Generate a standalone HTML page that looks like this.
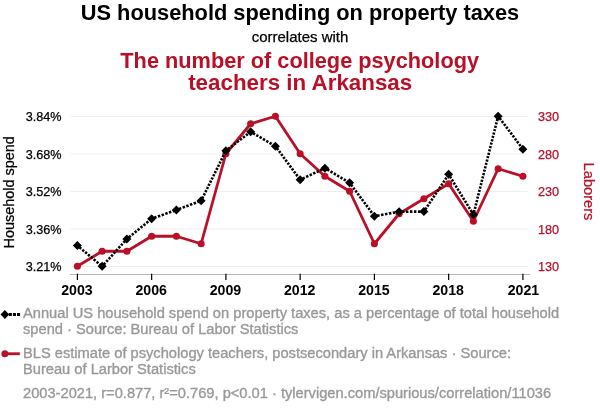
<!DOCTYPE html><html><head><meta charset="utf-8"><style>html,body{margin:0;padding:0;background:#fff}svg{display:block}</style></head><body><svg width="600" height="414" viewBox="0 0 600 414" font-family="&quot;Liberation Sans&quot;, sans-serif">
<rect width="600" height="414" fill="#fff"/>
<line x1="70.5" x2="528.5" y1="116.5" y2="116.5" stroke="#eeeeee" stroke-width="1"/>
<line x1="70.5" x2="528.5" y1="154" y2="154" stroke="#eeeeee" stroke-width="1"/>
<line x1="70.5" x2="528.5" y1="191.5" y2="191.5" stroke="#eeeeee" stroke-width="1"/>
<line x1="70.5" x2="528.5" y1="229" y2="229" stroke="#eeeeee" stroke-width="1"/>
<line x1="70.5" x2="528.5" y1="266.5" y2="266.5" stroke="#eeeeee" stroke-width="1"/>
<line x1="70" x2="530" y1="274.5" y2="274.5" stroke="#b8b8b8" stroke-width="1"/>
<line x1="77.40" x2="77.40" y1="273.7" y2="280" stroke="#000" stroke-width="1.2"/>
<text x="77.00" y="294.6" font-size="14.5" font-weight="bold" text-anchor="middle" textLength="31.5" lengthAdjust="spacingAndGlyphs" fill="#000">2003</text>
<line x1="151.65" x2="151.65" y1="273.7" y2="280" stroke="#000" stroke-width="1.2"/>
<text x="151.25" y="294.6" font-size="14.5" font-weight="bold" text-anchor="middle" textLength="31.5" lengthAdjust="spacingAndGlyphs" fill="#000">2006</text>
<line x1="225.90" x2="225.90" y1="273.7" y2="280" stroke="#000" stroke-width="1.2"/>
<text x="225.50" y="294.6" font-size="14.5" font-weight="bold" text-anchor="middle" textLength="31.5" lengthAdjust="spacingAndGlyphs" fill="#000">2009</text>
<line x1="300.15" x2="300.15" y1="273.7" y2="280" stroke="#000" stroke-width="1.2"/>
<text x="299.75" y="294.6" font-size="14.5" font-weight="bold" text-anchor="middle" textLength="31.5" lengthAdjust="spacingAndGlyphs" fill="#000">2012</text>
<line x1="374.40" x2="374.40" y1="273.7" y2="280" stroke="#000" stroke-width="1.2"/>
<text x="374.00" y="294.6" font-size="14.5" font-weight="bold" text-anchor="middle" textLength="31.5" lengthAdjust="spacingAndGlyphs" fill="#000">2015</text>
<line x1="448.65" x2="448.65" y1="273.7" y2="280" stroke="#000" stroke-width="1.2"/>
<text x="448.25" y="294.6" font-size="14.5" font-weight="bold" text-anchor="middle" textLength="31.5" lengthAdjust="spacingAndGlyphs" fill="#000">2018</text>
<line x1="522.90" x2="522.90" y1="273.7" y2="280" stroke="#000" stroke-width="1.2"/>
<text x="523.50" y="294.6" font-size="14.5" font-weight="bold" text-anchor="middle" textLength="31.5" lengthAdjust="spacingAndGlyphs" fill="#000">2021</text>
<text x="61.6" y="120.8" font-size="12.67" text-anchor="end" fill="#000" stroke="#000" stroke-width="0.25">3.84%</text>
<text x="538" y="120.8" font-size="12.67" text-anchor="start" fill="#b90f27" stroke="#b90f27" stroke-width="0.25">330</text>
<text x="61.6" y="159.1" font-size="12.67" text-anchor="end" fill="#000" stroke="#000" stroke-width="0.25">3.68%</text>
<text x="538" y="159.1" font-size="12.67" text-anchor="start" fill="#b90f27" stroke="#b90f27" stroke-width="0.25">280</text>
<text x="61.6" y="196.3" font-size="12.67" text-anchor="end" fill="#000" stroke="#000" stroke-width="0.25">3.52%</text>
<text x="538" y="196.3" font-size="12.67" text-anchor="start" fill="#b90f27" stroke="#b90f27" stroke-width="0.25">230</text>
<text x="61.6" y="234.3" font-size="12.67" text-anchor="end" fill="#000" stroke="#000" stroke-width="0.25">3.36%</text>
<text x="538" y="234.3" font-size="12.67" text-anchor="start" fill="#b90f27" stroke="#b90f27" stroke-width="0.25">180</text>
<text x="61.6" y="270.8" font-size="12.67" text-anchor="end" fill="#000" stroke="#000" stroke-width="0.25">3.21%</text>
<text x="538" y="270.8" font-size="12.67" text-anchor="start" fill="#b90f27" stroke="#b90f27" stroke-width="0.25">130</text>
<text x="300" y="19.8" font-size="21.8" font-weight="bold" text-anchor="middle" fill="#000">US household spending on property taxes</text>
<text x="300" y="42" font-size="14.67" text-anchor="middle" textLength="96.7" lengthAdjust="spacingAndGlyphs" fill="#000" stroke="#000" stroke-width="0.25">correlates with</text>
<text x="299.7" y="67.8" font-size="21.6" font-weight="bold" text-anchor="middle" textLength="358.7" lengthAdjust="spacingAndGlyphs" fill="#b90f27">The number of college psychology</text>
<text x="300.2" y="89.9" font-size="21.6" font-weight="bold" text-anchor="middle" textLength="224.1" lengthAdjust="spacingAndGlyphs" fill="#b90f27">teachers in Arkansas</text>
<text transform="translate(14.4,192.3) rotate(-90)" font-size="14.67" text-anchor="middle" textLength="112.3" lengthAdjust="spacingAndGlyphs" fill="#000" stroke="#000" stroke-width="0.25">Household spend</text>
<text transform="translate(583.8,191.5) rotate(90)" font-size="14.67" text-anchor="middle" fill="#b90f27" stroke="#b90f27" stroke-width="0.25">Laborers</text>
<polyline points="77.40,266.25 102.15,251.25 126.90,251.25 151.65,236.25 176.40,236.25 201.15,243.75 225.90,153.75 250.65,123.75 275.40,116.25 300.15,153.75 324.90,176.25 349.65,191.25 374.40,243.75 399.15,213.75 423.90,198.75 448.65,183.75 473.40,221.25 498.15,168.75 522.90,176.25" fill="none" stroke="#b90f27" stroke-width="2.8" stroke-linejoin="round"/>
<circle cx="77.40" cy="266.25" r="3.55" fill="#b90f27"/>
<circle cx="102.15" cy="251.25" r="3.55" fill="#b90f27"/>
<circle cx="126.90" cy="251.25" r="3.55" fill="#b90f27"/>
<circle cx="151.65" cy="236.25" r="3.55" fill="#b90f27"/>
<circle cx="176.40" cy="236.25" r="3.55" fill="#b90f27"/>
<circle cx="201.15" cy="243.75" r="3.55" fill="#b90f27"/>
<circle cx="225.90" cy="153.75" r="3.55" fill="#b90f27"/>
<circle cx="250.65" cy="123.75" r="3.55" fill="#b90f27"/>
<circle cx="275.40" cy="116.25" r="3.55" fill="#b90f27"/>
<circle cx="300.15" cy="153.75" r="3.55" fill="#b90f27"/>
<circle cx="324.90" cy="176.25" r="3.55" fill="#b90f27"/>
<circle cx="349.65" cy="191.25" r="3.55" fill="#b90f27"/>
<circle cx="374.40" cy="243.75" r="3.55" fill="#b90f27"/>
<circle cx="399.15" cy="213.75" r="3.55" fill="#b90f27"/>
<circle cx="423.90" cy="198.75" r="3.55" fill="#b90f27"/>
<circle cx="448.65" cy="183.75" r="3.55" fill="#b90f27"/>
<circle cx="473.40" cy="221.25" r="3.55" fill="#b90f27"/>
<circle cx="498.15" cy="168.75" r="3.55" fill="#b90f27"/>
<circle cx="522.90" cy="176.25" r="3.55" fill="#b90f27"/>
<line x1="77.40" y1="245.55" x2="102.15" y2="266.35" stroke="#000" stroke-width="2.6" stroke-dasharray="2.32,1.42" stroke-dashoffset="1.12"/>
<line x1="102.15" y1="266.35" x2="126.90" y2="238.95" stroke="#000" stroke-width="2.6" stroke-dasharray="2.27,1.39" stroke-dashoffset="1.10"/>
<line x1="126.90" y1="238.95" x2="151.65" y2="218.75" stroke="#000" stroke-width="2.6" stroke-dasharray="2.33,1.43" stroke-dashoffset="1.13"/>
<line x1="151.65" y1="218.75" x2="176.40" y2="209.95" stroke="#000" stroke-width="2.6" stroke-dasharray="2.43,1.49" stroke-dashoffset="1.18"/>
<line x1="176.40" y1="209.95" x2="201.15" y2="200.75" stroke="#000" stroke-width="2.6" stroke-dasharray="2.43,1.49" stroke-dashoffset="1.18"/>
<line x1="201.15" y1="200.75" x2="225.90" y2="150.75" stroke="#000" stroke-width="2.6" stroke-dasharray="2.20,1.35" stroke-dashoffset="1.06"/>
<line x1="225.90" y1="150.75" x2="250.65" y2="131.75" stroke="#000" stroke-width="2.6" stroke-dasharray="2.34,1.43" stroke-dashoffset="1.13"/>
<line x1="250.65" y1="131.75" x2="275.40" y2="146.15" stroke="#000" stroke-width="2.6" stroke-dasharray="2.38,1.46" stroke-dashoffset="1.15"/>
<line x1="275.40" y1="146.15" x2="300.15" y2="179.75" stroke="#000" stroke-width="2.6" stroke-dasharray="2.24,1.37" stroke-dashoffset="1.09"/>
<line x1="300.15" y1="179.75" x2="324.90" y2="168.15" stroke="#000" stroke-width="2.6" stroke-dasharray="2.41,1.47" stroke-dashoffset="1.16"/>
<line x1="324.90" y1="168.15" x2="349.65" y2="182.75" stroke="#000" stroke-width="2.6" stroke-dasharray="2.38,1.46" stroke-dashoffset="1.15"/>
<line x1="349.65" y1="182.75" x2="374.40" y2="216.15" stroke="#000" stroke-width="2.6" stroke-dasharray="2.24,1.37" stroke-dashoffset="1.09"/>
<line x1="374.40" y1="216.15" x2="399.15" y2="211.75" stroke="#000" stroke-width="2.6" stroke-dasharray="2.47,1.51" stroke-dashoffset="1.19"/>
<line x1="399.15" y1="211.75" x2="423.90" y2="211.55" stroke="#000" stroke-width="2.6" stroke-dasharray="2.48,1.52" stroke-dashoffset="1.20"/>
<line x1="423.90" y1="211.55" x2="448.65" y2="174.35" stroke="#000" stroke-width="2.6" stroke-dasharray="2.23,1.37" stroke-dashoffset="1.08"/>
<line x1="448.65" y1="174.35" x2="473.40" y2="214.55" stroke="#000" stroke-width="2.6" stroke-dasharray="2.22,1.36" stroke-dashoffset="1.07"/>
<line x1="473.40" y1="214.55" x2="498.15" y2="116.15" stroke="#000" stroke-width="2.6" stroke-dasharray="2.16,1.32" stroke-dashoffset="1.04"/>
<line x1="498.15" y1="116.15" x2="522.90" y2="149.15" stroke="#000" stroke-width="2.6" stroke-dasharray="2.24,1.38" stroke-dashoffset="1.09"/>
<path d="M77.40,241.05 l4.5,4.5 l-4.5,4.5 l-4.5,-4.5 z" fill="#000"/>
<path d="M102.15,261.85 l4.5,4.5 l-4.5,4.5 l-4.5,-4.5 z" fill="#000"/>
<path d="M126.90,234.45 l4.5,4.5 l-4.5,4.5 l-4.5,-4.5 z" fill="#000"/>
<path d="M151.65,214.25 l4.5,4.5 l-4.5,4.5 l-4.5,-4.5 z" fill="#000"/>
<path d="M176.40,205.45 l4.5,4.5 l-4.5,4.5 l-4.5,-4.5 z" fill="#000"/>
<path d="M201.15,196.25 l4.5,4.5 l-4.5,4.5 l-4.5,-4.5 z" fill="#000"/>
<path d="M225.90,146.25 l4.5,4.5 l-4.5,4.5 l-4.5,-4.5 z" fill="#000"/>
<path d="M250.65,127.25 l4.5,4.5 l-4.5,4.5 l-4.5,-4.5 z" fill="#000"/>
<path d="M275.40,141.65 l4.5,4.5 l-4.5,4.5 l-4.5,-4.5 z" fill="#000"/>
<path d="M300.15,175.25 l4.5,4.5 l-4.5,4.5 l-4.5,-4.5 z" fill="#000"/>
<path d="M324.90,163.65 l4.5,4.5 l-4.5,4.5 l-4.5,-4.5 z" fill="#000"/>
<path d="M349.65,178.25 l4.5,4.5 l-4.5,4.5 l-4.5,-4.5 z" fill="#000"/>
<path d="M374.40,211.65 l4.5,4.5 l-4.5,4.5 l-4.5,-4.5 z" fill="#000"/>
<path d="M399.15,207.25 l4.5,4.5 l-4.5,4.5 l-4.5,-4.5 z" fill="#000"/>
<path d="M423.90,207.05 l4.5,4.5 l-4.5,4.5 l-4.5,-4.5 z" fill="#000"/>
<path d="M448.65,169.85 l4.5,4.5 l-4.5,4.5 l-4.5,-4.5 z" fill="#000"/>
<path d="M473.40,210.05 l4.5,4.5 l-4.5,4.5 l-4.5,-4.5 z" fill="#000"/>
<path d="M498.15,111.65 l4.5,4.5 l-4.5,4.5 l-4.5,-4.5 z" fill="#000"/>
<path d="M522.90,144.65 l4.5,4.5 l-4.5,4.5 l-4.5,-4.5 z" fill="#000"/>
<line x1="4.7" x2="20.05" y1="314.4" y2="314.4" stroke="#000" stroke-width="3" stroke-dasharray="3.05,1.05"/>
<path d="M4.85,310.0 l4.3,4.5 l-4.3,4.5 l-4.3,-4.5 z" fill="#000"/>
<text x="23" y="318.1" font-size="14.67" fill="#999" stroke="#999" stroke-width="0.35">Annual US household spend on property taxes, as a percentage of total household</text>
<text x="23" y="334.3" font-size="14.67" fill="#999" stroke="#999" stroke-width="0.35">spend · Source: Bureau of Labor Statistics</text>
<line x1="5" x2="19.85" y1="353.75" y2="353.75" stroke="#b90f27" stroke-width="2.8"/>
<circle cx="4.85" cy="353.75" r="3.5" fill="#b90f27"/>
<text x="23" y="358.0" font-size="14.67" fill="#999" stroke="#999" stroke-width="0.35">BLS estimate of psychology teachers, postsecondary in Arkansas · Source:</text>
<text x="23" y="374.3" font-size="14.67" fill="#999" stroke="#999" stroke-width="0.35">Bureau of Larbor Statistics</text>
<text x="23" y="397.5" font-size="14.67" fill="#999" stroke="#999" stroke-width="0.35">2003-2021, r=0.877, r²=0.769, p&lt;0.01 · tylervigen.com/spurious/correlation/11036</text>
</svg></body></html>
